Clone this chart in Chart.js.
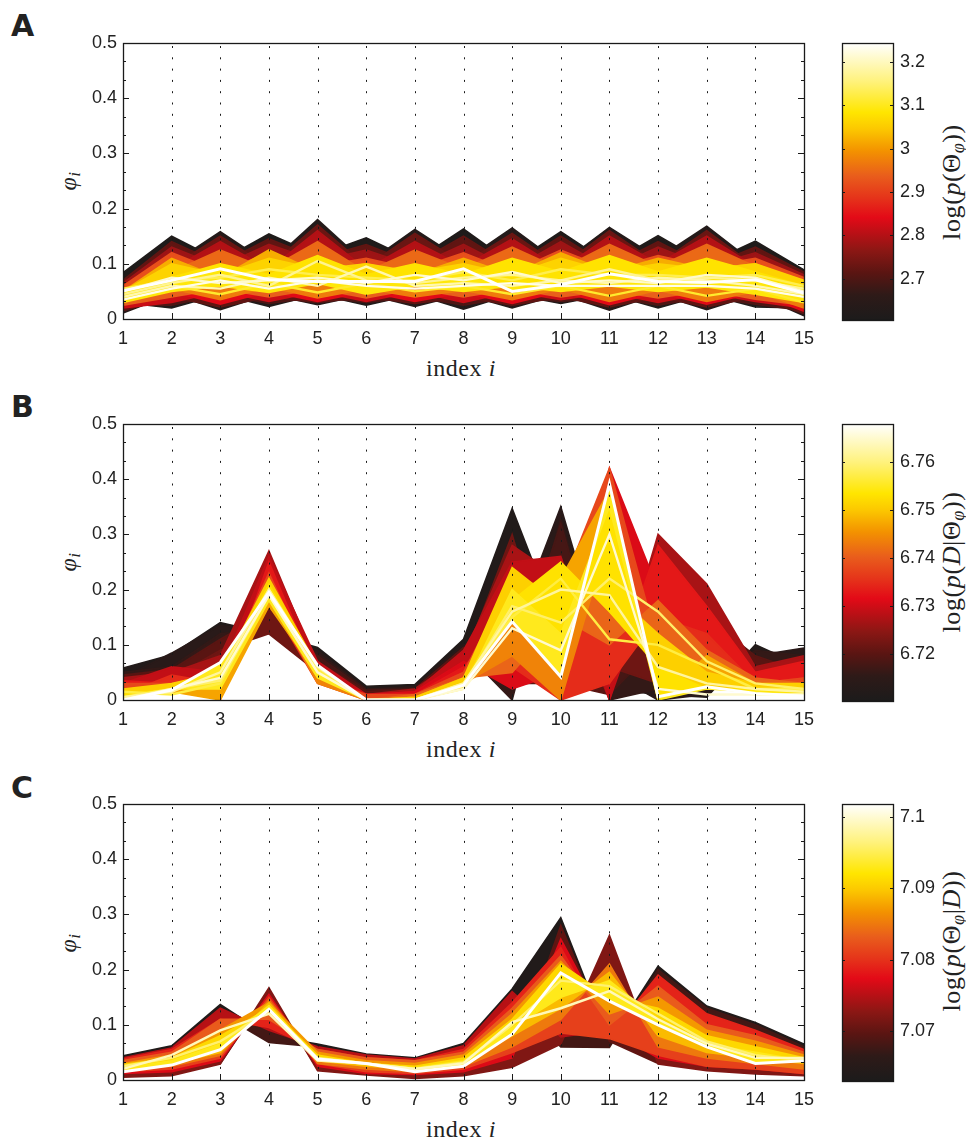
<!DOCTYPE html>
<html>
<head>
<meta charset="utf-8">
<script src="https://cdn.jsdelivr.net/npm/chart.js@4.4.1/dist/chart.umd.min.js"></script>
<style>
  body { margin: 0; background: #fff; width: 966px; height: 1138px; position: relative; overflow: hidden; }
  canvas { position: absolute; }
  .lbl { position: absolute; color: #222; white-space: nowrap; line-height: 1; }
  .letter { font-family: "DejaVu Sans", sans-serif; font-weight: bold; font-size: 30px; transform: translate(0, -50%); }
  .serif { font-family: "Liberation Serif", "DejaVu Serif", serif; font-size: 24px; letter-spacing: 0.6px; }
  .cbt { font-size: 26px; }
  .center { transform: translate(-50%, -50%); }
  .rot { transform: translate(-50%, -50%) rotate(-90deg); }
  sub { font-size: 70%; vertical-align: -0.25em; }
</style>
</head>
<body>

<div class="lbl letter" style="left:11px;top:26px">A</div>
<div class="lbl letter" style="left:11px;top:407px">B</div>
<div class="lbl letter" style="left:11px;top:788px">C</div>

<div class="lbl serif rot" style="left:70px;top:181px"><i>φ</i><sub><i>i</i></sub></div>
<div class="lbl serif rot" style="left:70px;top:562px"><i>φ</i><sub><i>i</i></sub></div>
<div class="lbl serif rot" style="left:70px;top:943px"><i>φ</i><sub><i>i</i></sub></div>

<div class="lbl serif center" style="left:461px;top:368px">index <i>i</i></div>
<div class="lbl serif center" style="left:461px;top:749px">index <i>i</i></div>
<div class="lbl serif center" style="left:461px;top:1129px">index <i>i</i></div>

<div class="lbl serif cbt rot" style="left:953px;top:182px">log(<i>p</i>(Θ<sub><i>φ</i></sub>))</div>
<div class="lbl serif cbt rot" style="left:953px;top:562px">log(<i>p</i>(<i>D</i>|Θ<sub><i>φ</i></sub>))</div>
<div class="lbl serif cbt rot" style="left:953px;top:941px">log(<i>p</i>(Θ<sub><i>φ</i></sub>|<i>D</i>))</div>

<canvas id="mainA" width="785" height="330" style="left:40px;top:20px"></canvas>
<canvas id="mainB" width="785" height="330" style="left:40px;top:401px"></canvas>
<canvas id="mainC" width="785" height="330" style="left:40px;top:781px"></canvas>
<canvas id="cbA" width="120" height="330" style="left:820px;top:20px"></canvas>
<canvas id="cbB" width="120" height="330" style="left:820px;top:401px"></canvas>
<canvas id="cbC" width="120" height="330" style="left:820px;top:781px"></canvas>

<script>
// axis ticks
const xTicks = [1, 2, 3, 4, 5, 6, 7, 8, 9, 10, 11, 12, 13, 14, 15];
const yTicks = [0, 0.1, 0.2, 0.3, 0.4, 0.5];

// panel A: phi_i for sampled parameter sets, with their log(p(Theta)); last row is the best one
const seriesA = [
  [0.084, 0.150, 0.105, 0.154, 0.115, 0.147, 0.105, 0.163, 0.100, 0.158, 0.100, 0.151, 0.100, 0.141, 0.089],
  [0.078, 0.100, 0.158, 0.100, 0.180, 0.100, 0.162, 0.105, 0.165, 0.100, 0.166, 0.110, 0.168, 0.100, 0.085],
  [0.030, 0.020, 0.045, 0.023, 0.045, 0.025, 0.045, 0.018, 0.045, 0.028, 0.045, 0.020, 0.045, 0.022, 0.020],
  [0.011, 0.045, 0.017, 0.045, 0.026, 0.045, 0.023, 0.045, 0.020, 0.045, 0.016, 0.045, 0.017, 0.045, 0.006],
  [0.070, 0.140, 0.100, 0.145, 0.110, 0.135, 0.100, 0.150, 0.095, 0.150, 0.095, 0.140, 0.095, 0.130, 0.085],
  [0.070, 0.095, 0.150, 0.095, 0.170, 0.095, 0.155, 0.100, 0.155, 0.095, 0.160, 0.100, 0.160, 0.095, 0.080],
  [0.025, 0.025, 0.045, 0.028, 0.040, 0.030, 0.040, 0.025, 0.040, 0.032, 0.040, 0.025, 0.040, 0.027, 0.015],
  [0.015, 0.040, 0.022, 0.040, 0.030, 0.040, 0.028, 0.040, 0.025, 0.040, 0.022, 0.040, 0.022, 0.040, 0.010],
  [0.065, 0.130, 0.095, 0.135, 0.105, 0.125, 0.095, 0.135, 0.090, 0.140, 0.090, 0.130, 0.095, 0.120, 0.080],
  [0.060, 0.090, 0.140, 0.090, 0.160, 0.090, 0.140, 0.095, 0.145, 0.090, 0.150, 0.100, 0.150, 0.095, 0.075],
  [0.020, 0.030, 0.050, 0.032, 0.050, 0.032, 0.050, 0.030, 0.050, 0.035, 0.048, 0.030, 0.048, 0.032, 0.020],
  [0.030, 0.050, 0.027, 0.050, 0.032, 0.050, 0.032, 0.048, 0.028, 0.050, 0.026, 0.048, 0.027, 0.048, 0.014],
  [0.060, 0.120, 0.085, 0.120, 0.095, 0.110, 0.090, 0.120, 0.085, 0.125, 0.090, 0.115, 0.095, 0.110, 0.075],
  [0.055, 0.085, 0.125, 0.090, 0.140, 0.085, 0.125, 0.090, 0.130, 0.090, 0.135, 0.095, 0.135, 0.095, 0.070],
  [0.025, 0.040, 0.055, 0.040, 0.055, 0.038, 0.055, 0.040, 0.055, 0.040, 0.052, 0.038, 0.052, 0.036, 0.025],
  [0.035, 0.055, 0.035, 0.058, 0.038, 0.055, 0.040, 0.052, 0.035, 0.055, 0.032, 0.052, 0.032, 0.050, 0.020],
  [0.050, 0.110, 0.075, 0.125, 0.085, 0.100, 0.080, 0.110, 0.080, 0.120, 0.085, 0.110, 0.090, 0.100, 0.065],
  [0.050, 0.100, 0.080, 0.110, 0.090, 0.100, 0.085, 0.100, 0.080, 0.110, 0.085, 0.100, 0.090, 0.100, 0.070],
  [0.045, 0.075, 0.100, 0.080, 0.115, 0.080, 0.100, 0.080, 0.110, 0.085, 0.115, 0.085, 0.110, 0.085, 0.060],
  [0.030, 0.050, 0.060, 0.048, 0.065, 0.045, 0.060, 0.050, 0.060, 0.050, 0.060, 0.050, 0.058, 0.045, 0.030],
  [0.040, 0.060, 0.045, 0.065, 0.048, 0.065, 0.050, 0.060, 0.045, 0.060, 0.042, 0.060, 0.042, 0.055, 0.030],
  [0.055, 0.070, 0.075, 0.090, 0.080, 0.075, 0.070, 0.085, 0.070, 0.090, 0.080, 0.080, 0.075, 0.080, 0.060],
  [0.045, 0.065, 0.080, 0.060, 0.105, 0.070, 0.065, 0.075, 0.080, 0.070, 0.090, 0.070, 0.075, 0.070, 0.055],
  [0.040, 0.060, 0.055, 0.075, 0.060, 0.095, 0.060, 0.065, 0.060, 0.070, 0.065, 0.075, 0.070, 0.060, 0.045],
  [0.050, 0.075, 0.065, 0.070, 0.075, 0.065, 0.080, 0.070, 0.085, 0.065, 0.070, 0.065, 0.080, 0.075, 0.050],
  [0.035, 0.055, 0.070, 0.055, 0.070, 0.060, 0.055, 0.060, 0.065, 0.060, 0.060, 0.060, 0.060, 0.055, 0.040],
  [0.051, 0.070, 0.091, 0.071, 0.068, 0.068, 0.068, 0.091, 0.050, 0.062, 0.082, 0.068, 0.066, 0.071, 0.047]
];
const scoresA = [2.615, 2.63, 2.625, 2.64, 2.72, 2.73, 2.70, 2.72, 2.78, 2.80, 2.82, 2.84,
  2.92, 2.95, 2.94, 2.97, 3.02, 3.06, 3.08, 3.09, 3.11, 3.13, 3.17, 3.19, 3.21, 3.23, 3.244];
const cbRangeA = [2.605, 3.244];
const cbTicksA = [2.7, 2.8, 2.9, 3, 3.1, 3.2];

// panel B: log(p(D|Theta))
const seriesB = [
  [0.058, 0.082, 0.140, 0.120, 0.095, 0.025, 0.028, 0.110, 0.347, 0.120, 0.020, 0.010, 0.005, 0.100, 0.060],
  [0.040, 0.085, 0.135, 0.125, 0.090, 0.020, 0.025, 0.100, 0.120, 0.350, 0.050, 0.000, 0.010, 0.080, 0.094],
  [0.050, 0.060, 0.120, 0.130, 0.085, 0.020, 0.022, 0.090, 0.000, 0.330, 0.000, 0.020, 0.030, 0.090, 0.080],
  [0.030, 0.050, 0.100, 0.140, 0.080, 0.018, 0.020, 0.080, 0.050, 0.320, 0.010, 0.100, 0.190, 0.060, 0.070],
  [0.045, 0.055, 0.110, 0.160, 0.070, 0.015, 0.020, 0.095, 0.030, 0.030, 0.010, 0.220, 0.150, 0.080, 0.050],
  [0.020, 0.040, 0.090, 0.120, 0.050, 0.010, 0.015, 0.070, 0.300, 0.000, 0.060, 0.030, 0.020, 0.040, 0.060],
  [0.040, 0.050, 0.080, 0.270, 0.060, 0.010, 0.020, 0.080, 0.280, 0.220, 0.000, 0.300, 0.210, 0.060, 0.080],
  [0.030, 0.060, 0.050, 0.260, 0.070, 0.010, 0.015, 0.090, 0.250, 0.260, 0.000, 0.250, 0.150, 0.050, 0.060],
  [0.020, 0.040, 0.020, 0.240, 0.050, 0.010, 0.015, 0.070, 0.020, 0.050, 0.420, 0.200, 0.100, 0.040, 0.050],
  [0.035, 0.030, 0.000, 0.250, 0.040, 0.000, 0.010, 0.060, 0.150, 0.250, 0.030, 0.280, 0.170, 0.050, 0.070],
  [0.010, 0.045, 0.030, 0.180, 0.030, 0.000, 0.010, 0.050, 0.060, 0.000, 0.030, 0.150, 0.120, 0.030, 0.040],
  [0.030, 0.030, 0.040, 0.230, 0.040, 0.010, 0.010, 0.050, 0.220, 0.200, 0.420, 0.100, 0.050, 0.030, 0.040],
  [0.020, 0.020, 0.060, 0.200, 0.050, 0.000, 0.010, 0.040, 0.050, 0.150, 0.100, 0.180, 0.090, 0.040, 0.030],
  [0.015, 0.025, 0.030, 0.190, 0.030, 0.000, 0.005, 0.030, 0.080, 0.000, 0.300, 0.050, 0.040, 0.020, 0.030],
  [0.010, 0.015, 0.000, 0.170, 0.045, 0.000, 0.005, 0.040, 0.180, 0.220, 0.380, 0.000, 0.080, 0.030, 0.020],
  [0.020, 0.030, 0.050, 0.220, 0.060, 0.000, 0.005, 0.040, 0.240, 0.170, 0.200, 0.120, 0.050, 0.030, 0.030],
  [0.010, 0.020, 0.040, 0.210, 0.050, 0.000, 0.000, 0.030, 0.180, 0.250, 0.160, 0.060, 0.020, 0.020, 0.020],
  [0.000, 0.020, 0.020, 0.180, 0.040, 0.000, 0.000, 0.020, 0.200, 0.120, 0.350, 0.000, 0.020, 0.015, 0.010],
  [0.015, 0.010, 0.030, 0.200, 0.055, 0.000, 0.000, 0.030, 0.150, 0.220, 0.110, 0.100, 0.060, 0.020, 0.020],
  [0.005, 0.020, 0.035, 0.190, 0.050, 0.000, 0.000, 0.025, 0.170, 0.140, 0.220, 0.160, 0.070, 0.030, 0.020],
  [0.005, 0.015, 0.050, 0.200, 0.060, 0.000, 0.000, 0.030, 0.160, 0.200, 0.190, 0.060, 0.030, 0.020, 0.015],
  [0.000, 0.020, 0.040, 0.190, 0.050, 0.000, 0.000, 0.020, 0.130, 0.090, 0.300, 0.020, 0.010, 0.010, 0.010],
  [0.000, 0.018, 0.068, 0.195, 0.063, 0.000, 0.000, 0.027, 0.142, 0.042, 0.392, 0.006, 0.024, 0.012, 0.007]
];
const scoresB = [6.712, 6.714, 6.716, 6.718, 6.720, 6.722, 6.727, 6.729, 6.731, 6.733, 6.735,
  6.738, 6.741, 6.744, 6.747, 6.751, 6.753, 6.755, 6.757, 6.759, 6.762, 6.765, 6.7679];
const cbRangeB = [6.7103, 6.7679];
const cbTicksB = [6.72, 6.73, 6.74, 6.75, 6.76];

// panel C: log(p(Theta|D))
const seriesC = [
  [0.044, 0.062, 0.137, 0.080, 0.065, 0.047, 0.040, 0.066, 0.165, 0.294, 0.070, 0.206, 0.134, 0.104, 0.065],
  [0.005, 0.008, 0.029, 0.167, 0.017, 0.009, 0.003, 0.008, 0.023, 0.065, 0.262, 0.029, 0.017, 0.011, 0.008],
  [0.035, 0.055, 0.120, 0.068, 0.060, 0.040, 0.038, 0.060, 0.150, 0.060, 0.059, 0.200, 0.130, 0.100, 0.060],
  [0.010, 0.012, 0.030, 0.160, 0.020, 0.012, 0.008, 0.012, 0.030, 0.280, 0.070, 0.030, 0.020, 0.015, 0.010],
  [0.040, 0.058, 0.130, 0.090, 0.060, 0.045, 0.038, 0.062, 0.160, 0.078, 0.090, 0.050, 0.030, 0.020, 0.015],
  [0.012, 0.015, 0.035, 0.155, 0.025, 0.012, 0.010, 0.015, 0.040, 0.255, 0.090, 0.040, 0.025, 0.020, 0.012],
  [0.038, 0.055, 0.110, 0.095, 0.055, 0.040, 0.035, 0.055, 0.140, 0.240, 0.080, 0.190, 0.120, 0.090, 0.055],
  [0.015, 0.020, 0.040, 0.150, 0.030, 0.015, 0.012, 0.020, 0.050, 0.085, 0.075, 0.045, 0.025, 0.020, 0.012],
  [0.035, 0.050, 0.110, 0.110, 0.055, 0.040, 0.035, 0.050, 0.130, 0.225, 0.100, 0.170, 0.100, 0.080, 0.050],
  [0.018, 0.025, 0.045, 0.145, 0.030, 0.020, 0.015, 0.025, 0.060, 0.110, 0.210, 0.060, 0.040, 0.030, 0.020],
  [0.030, 0.045, 0.090, 0.140, 0.050, 0.035, 0.030, 0.045, 0.120, 0.215, 0.120, 0.150, 0.090, 0.070, 0.045],
  [0.020, 0.030, 0.050, 0.140, 0.035, 0.025, 0.020, 0.030, 0.080, 0.130, 0.195, 0.080, 0.050, 0.040, 0.030],
  [0.028, 0.040, 0.080, 0.130, 0.045, 0.030, 0.025, 0.040, 0.110, 0.210, 0.150, 0.130, 0.080, 0.060, 0.040],
  [0.022, 0.035, 0.065, 0.135, 0.040, 0.028, 0.022, 0.035, 0.095, 0.150, 0.180, 0.110, 0.065, 0.050, 0.035],
  [0.025, 0.040, 0.070, 0.125, 0.040, 0.030, 0.020, 0.032, 0.100, 0.180, 0.170, 0.120, 0.070, 0.045, 0.035],
  [0.020, 0.045, 0.090, 0.120, 0.035, 0.030, 0.020, 0.030, 0.105, 0.130, 0.161, 0.110, 0.066, 0.040, 0.040],
  [0.015, 0.027, 0.055, 0.128, 0.038, 0.030, 0.015, 0.025, 0.083, 0.194, 0.143, 0.100, 0.060, 0.030, 0.035]
];
const scoresC = [7.064, 7.072, 7.068, 7.070, 7.075, 7.077, 7.079, 7.081, 7.083, 7.085, 7.087,
  7.089, 7.091, 7.093, 7.096, 7.099, 7.1018];
const cbRangeC = [7.063, 7.1018];
const cbTicksC = [7.07, 7.08, 7.09, 7.1];

// black - red - orange - yellow - white colour map
const cmap = [
  [0.00, '#1c1b1b'], [0.09, '#2e1a18'], [0.17, '#5a1512'], [0.25, '#8b1714'],
  [0.37, '#e30a17'], [0.44, '#e5331a'], [0.52, '#e95d1c'], [0.61, '#f39200'],
  [0.69, '#fcc800'], [0.75, '#ffe600'], [0.86, '#fff27a'], [1.00, '#ffffff']
];
const fillBelow = 0.78; // samples darker than this are shaded towards the best one

function hexToRgb(h) {
  return [parseInt(h.slice(1, 3), 16), parseInt(h.slice(3, 5), 16), parseInt(h.slice(5, 7), 16)];
}
function colorAt(t) {
  t = Math.max(0, Math.min(1, t));
  for (let k = 1; k < cmap.length; k++) {
    if (t <= cmap[k][0]) {
      const a = cmap[k - 1], b = cmap[k];
      const f = (t - a[0]) / (b[0] - a[0]);
      const ca = hexToRgb(a[1]), cb = hexToRgb(b[1]);
      const c = ca.map((v, j) => Math.round(v + (cb[j] - v) * f));
      return 'rgb(' + c.join(',') + ')';
    }
  }
  return cmap[cmap.length - 1][1];
}

const fontTicks = { family: '"Liberation Sans", Arial, sans-serif', size: 18 };
const fmt = v => String(+Number(v).toFixed(4));

// box, dotted grid and inward tick marks, matlab style
const framePlugin = {
  id: 'frame',
  afterDatasetsDraw(chart) {
    const { ctx, chartArea: a, scales } = chart;
    ctx.save();
    ctx.strokeStyle = '#1a1a1a';
    ctx.lineWidth = 1;
    if (scales.x.type === 'linear') {
      ctx.setLineDash([2, 9.3]);
      ctx.lineDashOffset = -3;
      xTicks.slice(1, -1).forEach(v => {
        const x = Math.round(scales.x.getPixelForValue(v)) + 0.5;
        ctx.beginPath(); ctx.moveTo(x, a.top); ctx.lineTo(x, a.bottom); ctx.stroke();
      });
      ctx.setLineDash([]);
      const yt = scales.y.ticks.map(t => t.value);
      for (let k = 0; k < yt.length; k++) {
        const y = Math.round(scales.y.getPixelForValue(yt[k])) + 0.5;
        ctx.beginPath();
        ctx.moveTo(a.left, y); ctx.lineTo(a.left + 6, y);
        ctx.moveTo(a.right, y); ctx.lineTo(a.right - 6, y);
        ctx.stroke();
        if (k < yt.length - 1) {
          for (let m = 1; m < 3; m++) {
            const ym = Math.round(scales.y.getPixelForValue(yt[k] + (yt[k + 1] - yt[k]) * m / 3)) + 0.5;
            ctx.beginPath();
            ctx.moveTo(a.left, ym); ctx.lineTo(a.left + 3, ym);
            ctx.moveTo(a.right, ym); ctx.lineTo(a.right - 3, ym);
            ctx.stroke();
          }
        }
      }
      xTicks.forEach(v => {
        const x = Math.round(scales.x.getPixelForValue(v)) + 0.5;
        ctx.beginPath(); ctx.moveTo(x, a.bottom); ctx.lineTo(x, a.bottom - 6); ctx.stroke();
      });
    } else {
      scales.y.ticks.forEach(t => {
        const y = Math.round(scales.y.getPixelForValue(t.value)) + 0.5;
        ctx.beginPath();
        ctx.moveTo(a.left, y); ctx.lineTo(a.left + 3, y);
        ctx.moveTo(a.right, y); ctx.lineTo(a.right - 3, y);
        ctx.stroke();
      });
    }
    ctx.lineWidth = 1.3;
    ctx.strokeRect(Math.round(a.left) + 0.5, Math.round(a.top) + 0.5, Math.round(a.width), Math.round(a.height));
    ctx.restore();
  }
};

function makePanel(id, series, scores, range) {
  const best = series.length - 1;
  const datasets = series.map((vals, k) => {
    const t = (scores[k] - range[0]) / (range[1] - range[0]);
    const col = colorAt(t);
    const shaded = k !== best && t < fillBelow;
    return {
      data: vals.map((v, i) => ({ x: xTicks[i], y: v })),
      borderColor: col,
      backgroundColor: col,
      fill: shaded ? best : false,
      borderWidth: k === best ? 3 : (shaded ? 1.6 : 2.4),
      pointRadius: 0,
      tension: 0,
      order: -scores[k]
    };
  });
  new Chart(document.getElementById(id), {
    type: 'line',
    data: { datasets },
    options: {
      responsive: false,
      animation: false,
      devicePixelRatio: 1,
      layout: { padding: { top: 23, right: 21, left: 0, bottom: 0 } },
      plugins: { legend: { display: false }, tooltip: { enabled: false } },
      scales: {
        x: {
          type: 'linear', min: 1, max: 15,
          afterBuildTicks: s => { s.ticks = xTicks.map(v => ({ value: v })); },
          afterFit: s => { s.height = 31; },
          grid: { display: false, drawTicks: false },
          border: { display: false },
          ticks: { color: '#222', font: fontTicks, padding: 9, maxRotation: 0, autoSkip: false, callback: fmt }
        },
        y: {
          min: 0, max: 0.5,
          afterBuildTicks: s => { s.ticks = yTicks.map(v => ({ value: v })); },
          afterFit: s => { s.width = 83; },
          grid: { display: false, drawTicks: false },
          border: { display: false },
          ticks: { color: '#222', font: fontTicks, padding: 6, callback: fmt }
        }
      }
    },
    plugins: [framePlugin]
  });
}

function makeColorbar(id, range, ticks) {
  new Chart(document.getElementById(id), {
    type: 'bar',
    data: {
      labels: [''],
      datasets: [{
        data: [[range[0], range[1]]],
        borderWidth: 0,
        barPercentage: 1,
        categoryPercentage: 1,
        backgroundColor: c => {
          const area = c.chart.chartArea;
          if (!area) return '#888';
          const g = c.chart.ctx.createLinearGradient(0, area.bottom, 0, area.top);
          cmap.forEach(s => g.addColorStop(s[0], s[1]));
          return g;
        }
      }]
    },
    options: {
      responsive: false,
      animation: false,
      devicePixelRatio: 1,
      layout: { padding: { left: 22, top: 23, bottom: 30, right: 0 } },
      plugins: { legend: { display: false }, tooltip: { enabled: false } },
      scales: {
        x: { display: false },
        y: {
          position: 'right', min: range[0], max: range[1],
          afterBuildTicks: s => { s.ticks = ticks.map(v => ({ value: v })); },
          afterFit: s => { s.width = 47; },
          grid: { display: false, drawTicks: false },
          border: { display: false },
          ticks: { color: '#222', font: fontTicks, padding: 7, callback: fmt }
        }
      }
    },
    plugins: [framePlugin]
  });
}

makePanel('mainA', seriesA, scoresA, cbRangeA);
makePanel('mainB', seriesB, scoresB, cbRangeB);
makePanel('mainC', seriesC, scoresC, cbRangeC);
makeColorbar('cbA', cbRangeA, cbTicksA);
makeColorbar('cbB', cbRangeB, cbTicksB);
makeColorbar('cbC', cbRangeC, cbTicksC);
</script>
</body>
</html>
